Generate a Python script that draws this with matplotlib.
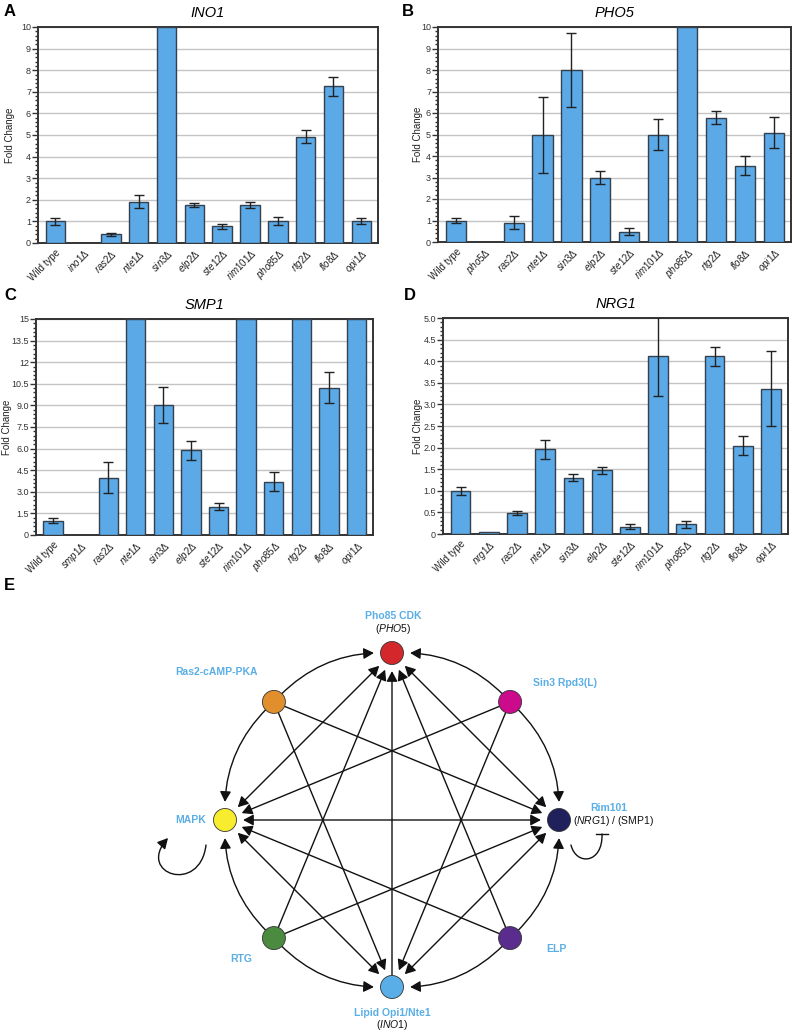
import numpy as np
import matplotlib
matplotlib.use("Agg")
import matplotlib.pyplot as plt
from matplotlib.patches import FancyArrowPatch, Circle
from matplotlib.path import Path
from matplotlib.ticker import MultipleLocator, FixedLocator, FixedFormatter

plt.rcParams["font.family"] = ["Liberation Sans", "DejaVu Sans"]
plt.rcParams["mathtext.fontset"] = "custom"
plt.rcParams["mathtext.rm"] = "Liberation Sans"
plt.rcParams["mathtext.it"] = "Liberation Sans:italic"
plt.rcParams["mathtext.bf"] = "Liberation Sans:bold"

W, H = 797, 1033

# ── Data ───────────────────────────────────────────────────────────────────
mutants = ["ras2", "nte1", "sin3", "elp2", "ste12", "rim101",
           "pho85", "rtg2", "flo8", "opi1"]

ino1_mean = [1.00, 0.0, 0.40, 1.90, 10.0, 1.77, 0.77, 1.77, 1.02, 4.92, 7.25, 1.02]
ino1_err = [0.17, np.nan, 0.08, 0.30, np.nan, 0.10, 0.10, 0.14, 0.17, 0.30, 0.43, 0.16]

pho5_mean = [1.00, 0.0, 0.90, 4.99, 8.00, 2.98, 0.48, 5.00, 10.0, 5.77, 3.55, 5.09]
pho5_err = [0.12, np.nan, 0.30, 1.77, 1.73, 0.30, 0.17, 0.72, np.nan, 0.30, 0.45, 0.72]

smp1_mean = [1.00, 0.0, 3.99, 15.0, 9.04, 5.87, 1.97, 15.0, 3.69, 15.0, 10.22, 15.0]
smp1_err = [0.15, np.nan, 1.07, np.nan, 1.23, 0.66, 0.25, np.nan, 0.66, np.nan, 1.08, np.nan]

nrg1_mean = [1.00, 0.05, 0.48, 1.96, 1.30, 1.47, 0.17, 4.11, 0.22, 4.11, 2.04, 3.36]
nrg1_err = [0.09, np.nan, 0.05, 0.22, 0.08, 0.07, 0.06, 0.91, 0.07, 0.21, 0.22, 0.87]

smp1_ticklabels = ["0", "1.5", "3.0", "4.5", "6.0", "7.5", "9.0",
                   "10.5", "12", "13.5", "15"]
nrg1_ticklabels = ["0", "0.5", "1.0", "1.5", "2.0", "2.5", "3.0",
                   "3.5", "4.0", "4.5", "5.0"]

# network
node_names = ["Pho85", "Sin3", "Rim101", "ELP", "Lipid", "RTG", "MAPK", "Ras2"]
node_angles = [90, 45, 0, -45, -90, -135, 180, 135]
node_colors = ["#d3272b", "#cc0a8c", "#20205c", "#5a2c8e",
               "#5aaee8", "#4b8b40", "#f8ec2e", "#e08f2c"]
both_ways = [("Pho85", "MAPK"), ("Pho85", "Rim101"), ("MAPK", "Rim101"),
             ("Lipid", "MAPK"), ("Lipid", "Rim101")]
straight_one_way = [("Lipid", "Pho85"), ("Ras2", "Rim101"), ("Ras2", "Lipid"),
                    ("Sin3", "MAPK"), ("Sin3", "Lipid"), ("ELP", "MAPK"),
                    ("ELP", "Pho85"), ("RTG", "Rim101"), ("RTG", "Pho85")]
arc_one_way = [("Ras2", "Pho85"), ("Ras2", "MAPK"), ("Sin3", "Pho85"),
               ("Sin3", "Rim101"), ("ELP", "Rim101"), ("ELP", "Lipid"),
               ("RTG", "MAPK"), ("RTG", "Lipid")]

BAR = "#5ba9e7"
EDGE = "#34414d"
FRAME = "#333333"
LBLUE = "#5aaee6"


def fx(px):
    return px / W


def fy(py):
    return 1 - py / H


fig = plt.figure(figsize=(W / 100, H / 100), dpi=100)


def strain_labels(target):
    labs = ["Wild type", r"$\mathit{%s}\Delta$" % target]
    labs += [r"$\mathit{%s}\Delta$" % m for m in mutants]
    return labs


def panel(box, ylab_px, means, errs, target, title, ymax, major, minor, ticklabels):
    l, r, t, b = box
    ax = fig.add_axes([fx(l), fy(b), (r - l) / W, (b - t) / H])
    x = np.arange(len(means))
    ax.bar(x, means, width=0.7, color=BAR, edgecolor=EDGE, linewidth=1.0, zorder=3)
    ax.errorbar(x, means, yerr=errs, fmt="none", ecolor="#222222",
                elinewidth=1.0, capsize=3.5, capthick=1.0, zorder=4)
    ax.set_xlim(-0.62, len(means) - 0.4)
    ax.set_ylim(0, ymax)
    ticks = np.arange(0, ymax + major / 2, major)
    ax.yaxis.set_major_locator(FixedLocator(ticks))
    ax.yaxis.set_major_formatter(FixedFormatter(ticklabels))
    ax.yaxis.set_minor_locator(MultipleLocator(minor))
    ax.tick_params(axis="y", which="major", length=4, width=1.0, labelsize=6.5,
                   colors=FRAME, pad=1.0)
    ax.tick_params(axis="y", which="minor", length=2.5, width=1.0, colors=FRAME)
    ax.set_xticks(x)
    ax.set_xticklabels(strain_labels(target), rotation=45, ha="right",
                       rotation_mode="anchor", fontsize=7, color="#222222")
    ax.tick_params(axis="x", length=0, pad=3)
    ax.yaxis.grid(True, color="#c4c4c4", linewidth=1.0, zorder=0)
    ax.set_axisbelow(True)
    for s in ax.spines.values():
        s.set_color(FRAME)
        s.set_linewidth(1.4)
    ax.set_ylabel("Fold Change", fontsize=7, color="#222222")
    ax.yaxis.set_label_coords((ylab_px - l) / (r - l), 0.5)
    ax.set_title(title, fontsize=10.5, style="italic", pad=7)
    return ax


panel((38, 378, 27, 243), 15, ino1_mean, ino1_err, "ino1", "INO1", 10, 1, 0.2,
      [str(i) for i in range(11)])
panel((438, 791, 27, 242), 423, pho5_mean, pho5_err, "pho5", "PHO5", 10, 1, 0.2,
      [str(i) for i in range(11)])
panel((36, 373, 319, 535), 12, smp1_mean, smp1_err, "smp1", "SMP1", 15, 1.5, 0.3,
      smp1_ticklabels)
panel((443, 788, 318, 534), 423, nrg1_mean, nrg1_err, "nrg1", "NRG1", 5, 0.5, 0.1,
      nrg1_ticklabels)

for letter, px, py in [("A", 4, 12), ("B", 402, 12), ("C", 4, 296),
                       ("D", 404, 296), ("E", 4, 585)]:
    fig.text(fx(px), fy(py), letter, fontsize=12, fontweight="bold",
             va="center", ha="left")

# ── Network (panel E) ──────────────────────────────────────────────────────
TOP = 565
axn = fig.add_axes([0, 0, 1, (H - TOP) / H])
axn.set_xlim(0, W)
axn.set_ylim(H, TOP)
axn.axis("off")

cx, cy, R = 392, 820, 167
pos = {}
for name, ang in zip(node_names, node_angles):
    a = np.deg2rad(ang)
    pos[name] = (cx + R * np.cos(a), cy - R * np.sin(a))
angle_of = dict(zip(node_names, node_angles))

head = "head_length=0.62,head_width=0.33"


def edge(a, b, style, rad=0.0):
    p = FancyArrowPatch(pos[a], pos[b], arrowstyle=style + "," + head,
                        connectionstyle="arc3,rad=%.3f" % rad,
                        mutation_scale=10, color="#111111", lw=1.0,
                        shrinkA=13 if style.startswith("<") else 7,
                        shrinkB=13, zorder=2)
    axn.add_patch(p)


for a, b in both_ways:
    edge(a, b, "<|-|>")
for a, b in straight_one_way:
    edge(a, b, "-|>")
for a, b in arc_one_way:
    d = (angle_of[b] - angle_of[a] + 180) % 360 - 180
    edge(a, b, "-|>", 0.24 if d > 0 else -0.24)

for name, col in zip(node_names, node_colors):
    axn.add_patch(Circle(pos[name], 11.5, facecolor=col, edgecolor="#333333",
                         lw=0.6, zorder=5))

# self loop on MAPK
loop = Path([(206, 845), (200, 895), (136, 874), (168, 838)],
            [Path.MOVETO, Path.CURVE4, Path.CURVE4, Path.CURVE4])
axn.add_patch(FancyArrowPatch(path=loop, arrowstyle="-|>," + head,
                              mutation_scale=10, color="#111111", lw=1.0))
# inhibition loop on Rim101
inh = Path([(571, 845), (576, 866), (603, 864), (602, 834)],
           [Path.MOVETO, Path.CURVE4, Path.CURVE4, Path.CURVE4])
axn.add_patch(FancyArrowPatch(path=inh, arrowstyle="-", color="#111111", lw=1.0))
axn.plot([596, 608], [833.5, 833.5], color="#111111", lw=1.0)

lab = dict(fontsize=7.5, fontweight="bold", color=LBLUE, ha="center", va="center")
sub = dict(fontsize=7.5, color="#111111", ha="center", va="center")
axn.text(393, 616, "Pho85 CDK", **lab)
axn.text(393, 629, r"($\mathit{PHO5}$)", **sub)
axn.text(217, 672, "Ras2-cAMP-PKA", **lab)
axn.text(565, 683, "Sin3 Rpd3(L)", **lab)
axn.text(191, 820, "MAPK", **lab)
axn.text(609, 808, "Rim101", **lab)
axn.text(613, 821, r"($\mathit{NRG1}$) / (SMP1)", **sub)
axn.text(556, 949, "ELP", **lab)
axn.text(241, 959, "RTG", **lab)
axn.text(392, 1013, "Lipid Opi1/Nte1", **lab)
axn.text(392, 1025, r"($\mathit{INO1}$)", **sub)

fig.savefig("out.png", dpi=100)
